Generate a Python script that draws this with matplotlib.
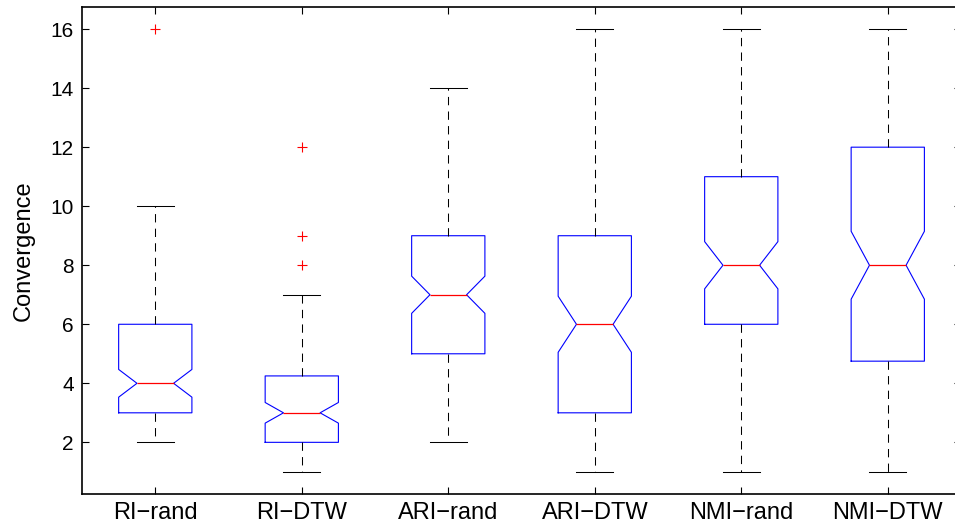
import matplotlib.pyplot as plt

plt.rcParams['font.family'] = ['Liberation Sans', 'DejaVu Sans']

# convergence statistics per method (notched box plot)
labels = ['RI\u2212rand', 'RI\u2212DTW', 'ARI\u2212rand', 'ARI\u2212DTW', 'NMI\u2212rand', 'NMI\u2212DTW']
q1 = [3, 2, 5, 3, 6, 4.75]
med = [4, 3, 7, 6, 8, 8]
q3 = [6, 4.25, 9, 9, 11, 12]
whislo = [2, 1, 2, 1, 1, 1]
whishi = [10, 7, 14, 16, 16, 16]
cilo = [3.53, 2.65, 6.37, 5.05, 7.2, 6.85]
cihi = [4.47, 3.35, 7.63, 6.95, 8.8, 9.15]
fliers = [[16], [8, 9, 12], [], [], [], []]

stats = []
for i in range(len(labels)):
    stats.append(dict(label=labels[i], q1=q1[i], med=med[i], q3=q3[i],
                      whislo=whislo[i], whishi=whishi[i],
                      cilo=cilo[i], cihi=cihi[i], fliers=fliers[i]))

fig = plt.figure(figsize=(9.55, 5.29), dpi=100)
ax = fig.add_axes([0.0859, 0.0662, 0.9204, 0.9206])

ax.bxp(stats, shownotches=True, widths=0.5, patch_artist=False,
       boxprops=dict(color='blue', linewidth=0.8),
       medianprops=dict(color='red', linewidth=0.9),
       whiskerprops=dict(color='black', linewidth=0.75, linestyle=(0, (8, 6))),
       capprops=dict(color='black', linewidth=0.75),
       flierprops=dict(marker='+', markeredgecolor='red', markersize=7,
                       markeredgewidth=0.8, linestyle='none'))

ax.set_xlim(0.5, 6.5)
ax.set_ylim(0.25, 16.75)
ax.set_yticks(range(2, 17, 2))
ax.set_ylabel('Convergence', fontsize=17, labelpad=11)

ax.tick_params(direction='in', length=5, top=True, right=True, width=0.8)
ax.tick_params(axis='x', labelsize=17, pad=6)
ax.tick_params(axis='y', labelsize=15, pad=6)
for s in ax.spines.values():
    s.set_linewidth(1.2)

fig.savefig('out.png', dpi=100)
